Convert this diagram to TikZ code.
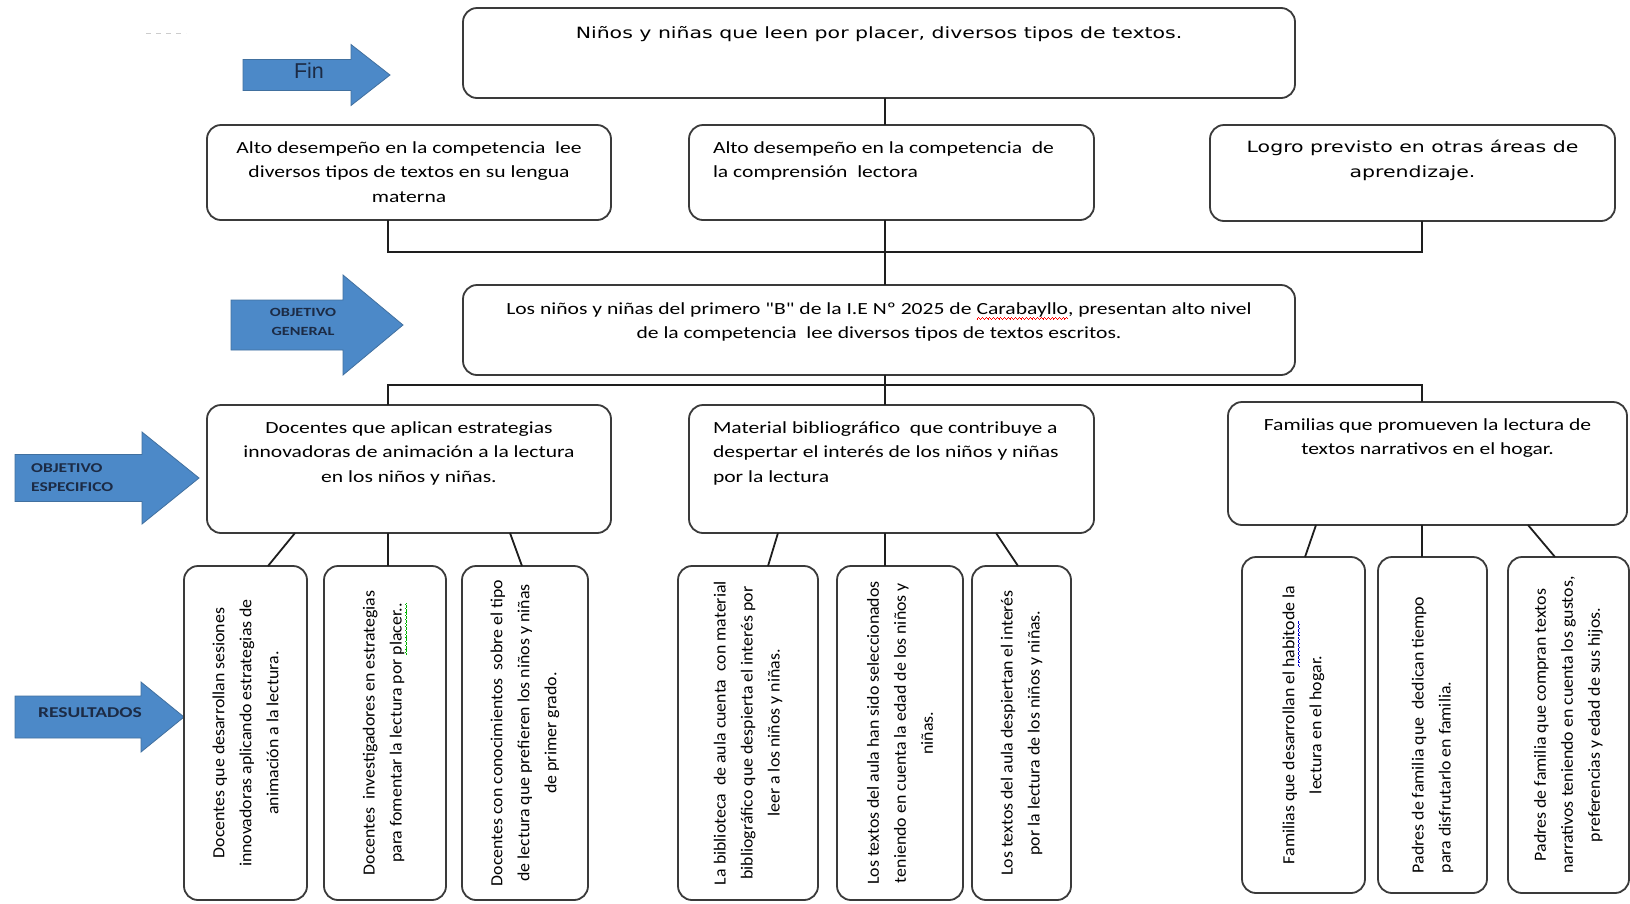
\documentclass[tikz,border=0pt]{standalone}
\usepackage{fontspec}
\setmainfont{Carlito}
\newfontfamily\hf[FakeStretch=1.27]{Carlito}
\newfontfamily\wf[FakeStretch=1.32]{DejaVu Sans}
\newfontfamily\vf[FakeStretch=1.05]{Carlito}
\newfontfamily\af[FakeStretch=1.3]{Carlito}
\newfontfamily\finf{Liberation Sans}
\usetikzlibrary{calc}
\definecolor{bc}{HTML}{3A3A3A}
\definecolor{lc}{HTML}{1E1E1E}
\definecolor{afill}{HTML}{4C89C8}
\definecolor{adraw}{HTML}{41709F}
\definecolor{atx}{HTML}{1C2B45}
% spell-check squiggle drawn with rules (no glyphs)
\newcommand\wv{\rule[-5.4pt]{0.9pt}{0.8pt}\rule[-4.7pt]{0.9pt}{0.8pt}\rule[-4.0pt]{0.9pt}{0.8pt}\rule[-4.7pt]{0.9pt}{0.8pt}}
\newcommand\wavy[2]{\setbox0\hbox{#2}\leavevmode\rlap{\color{#1}\hbox to \wd0{\xleaders\hbox{\wv}\hfill}}\box0}
% horizontal box content: width, height, first-baseline offset, text
\newcommand\hb[4]{\parbox[c][#2][t]{#1}{\hf\fontsize{17}{24.5}\selectfont\centering\rule{0pt}{#3}#4}}
\newcommand\hbw[4]{\parbox[c][#2][t]{#1}{\wf\fontsize{15.5}{25.5}\selectfont\centering\rule{0pt}{#3}#4}}
\newcommand\hbl[4]{\parbox[c][#2][t]{#1}{\hf\fontsize{17}{24.5}\selectfont\raggedright\leftskip=24pt\rule{0pt}{#3}#4}}
% rotated box content: length (visual height), thickness (visual width), text
\newcommand\vb[3]{\parbox[c][#2][c]{#1}{\vf\fontsize{17}{27}\selectfont\centering #3}}
\newcommand\vbl[3]{\parbox[c][#2][c]{#1}{\vf\fontsize{17}{27}\selectfont\raggedright\leftskip=20pt #3}}
\newcommand\barrow[6]{\path[arr] (#1,#4-#5) -- (#2,#4-#5) -- (#2,#4-#6) -- (#3,#4) -- (#2,#4+#6) -- (#2,#4+#5) -- (#1,#4+#5) -- cycle;}
\begin{document}
\begin{tikzpicture}[x=1pt,y=-1pt,
  box/.style={draw=bc, line width=1.8pt, rounded corners=14pt, fill=white, inner sep=0pt, outer sep=0pt},
  vbox/.style={box, rotate=90},
  conn/.style={draw=lc, line width=1.8pt},
  arr/.style={fill=afill, draw=adraw, line width=0.8pt},
  atext/.style={text=atx, inner sep=0pt}]
\useasboundingbox (0,0) rectangle (1630,903);
\fill[white] (0,0) rectangle (1630,903);
% stray mark
\draw[gray!40, line width=1pt, dash pattern=on 5pt off 5pt] (146,33) -- (186,33);
% side arrows
\barrow{243}{351}{390}{75}{15.5}{30.5}
\barrow{231}{343}{403}{325}{25}{50}
\barrow{15}{142}{199}{478}{23.5}{46}
\barrow{15}{141}{184}{717}{21}{35}
\node[atext, font=\finf\fontsize{21.5}{25}\selectfont] (fin) at (309,71) {Fin};
\node[atext, font=\af\bfseries\fontsize{12.5}{19}\selectfont, align=center] (og) at (303,322) {OBJETIVO\\GENERAL};
\node[atext, font=\af\bfseries\fontsize{13.5}{19}\selectfont, align=left, anchor=west] (oe) at (31,478) {OBJETIVO\\ESPECIFICO};
\node[atext, font=\af\bfseries\fontsize{15}{17}\selectfont] (res) at (90,713) {RESULTADOS};
% boxes
\node[box] (T) at (879,53) {\hbw{832pt}{90pt}{30pt}{Niños y niñas que leen por placer, diversos tipos de textos.}};
\node[box] (A) at (409,172.5) {\hb{404pt}{95pt}{28pt}{Alto desempeño en la competencia\ \ lee\\ diversos tipos de textos en su lengua\\ materna}};
\node[box] (B) at (891.5,172.5) {\hbl{405pt}{95pt}{28pt}{Alto desempeño en la competencia\ \ de\\ la comprensión\ \ lectora}};
\node[box] (C) at (1412.5,173) {\hbw{405pt}{96pt}{27pt}{Logro previsto en otras áreas de\\ aprendizaje.}};
\node[box] (G) at (879,330) {\hb{832pt}{90pt}{29pt}{Los niños y niñas del primero "B" de la I.E Nº 2025 de \wavy{red}{Carabayllo}, presentan alto nivel\\ de la competencia\ \ lee diversos tipos de textos escritos.}};
\node[box] (A3) at (409,469) {\hb{404pt}{128pt}{28pt}{Docentes que aplican estrategias\\ innovadoras de animación a la lectura\\ en los niños y niñas.}};
\node[box] (B3) at (891.5,469) {\hbl{405pt}{128pt}{28pt}{Material bibliográfico\ \ que contribuye a\\ despertar el interés de los niños y niñas\\ por la lectura}};
\node[box] (C3) at (1427.5,463.5) {\hb{399pt}{123pt}{28pt}{Familias que promueven la lectura de\\ textos narrativos en el hogar.}};
% result boxes (rotated)
\node[vbox] (R1) at (245.5,733) {\vb{334pt}{123pt}{Docentes que desarrollan sesiones\\ innovadoras aplicando estrategias de\\ animación a la lectura.}};
\node[vbox] (R2) at (385,733) {\vb{334pt}{122pt}{Docentes\ \ investigadores en estrategias\\ para fomentar la lectura por \wavy{green!70!black}{placer..}}};
\node[vbox] (R3) at (525,733) {\vb{334pt}{126pt}{Docentes con conocimientos\ \ sobre el tipo\\ de lectura que prefieren los niños y niñas\\ de primer grado.}};
\node[vbox] (R4) at (748,733) {\vb{334pt}{140pt}{La biblioteca\ \ de aula cuenta\ \ con material\\ bibliográfico que despierta el interés por\\ leer a los niños y niñas.}};
\node[vbox] (R5) at (900,733) {\vb{334pt}{126pt}{Los textos del aula han sido seleccionados\\ teniendo en cuenta la edad de los niños y\\ niñas.}};
\node[vbox] (R6) at (1021.5,733) {\vb{334pt}{99pt}{Los textos del aula despiertan el interés\\ por la lectura de los niños y niñas.}};
\node[vbox] (R7) at (1303.5,725) {\vb{336pt}{123pt}{Familias que desarrollan el \wavy{blue!80!black}{habito} de la\\ lectura en el hogar.}};
\node[vbox] (R8) at (1432.5,725) {\vbl{336pt}{109pt}{Padres de familia que\ \ dedican tiempo\\ para disfrutarlo en familia.}};
\node[vbox] (R9) at (1568.5,725) {\vb{336pt}{121pt}{Padres de familia que compran textos\\ narrativos teniendo en cuenta los gustos,\\ preferencias y edad de sus hijos.}};
% connectors
\coordinate (j1) at (885,252);
\coordinate (j2) at (885,385);
\draw[conn] (T.south -| j1) -- (B.north -| j1);
\draw[conn] (B.south -| j1) -- (G.north -| j1);
\draw[conn] ($(A.south)+(-21,0)$) |- (j1) -| ($(C.south)+(9.5,0)$);
\draw[conn] (G.south -| j2) -- (B3.north -| j2);
\draw[conn] ($(A3.north)+(-21,0)$) |- (j2) -| ($(C3.north)+(-5.5,0)$);
\draw[conn] ($(A3.south)+(-114,0)$) -- ($(R1.east)+(22.5,0)$);
\draw[conn] ($(A3.south)+(-21,0)$) -- ($(R2.east)+(3,0)$);
\draw[conn] ($(A3.south)+(101,0)$) -- ($(R3.east)+(-3,0)$);
\draw[conn] ($(B3.south)+(-113.5,0)$) -- ($(R4.east)+(20,0)$);
\draw[conn] ($(B3.south)+(-6.5,0)$) -- ($(R5.east)+(-15,0)$);
\draw[conn] ($(B3.south)+(104.5,0)$) -- ($(R6.east)+(-3.5,0)$);
\draw[conn] ($(C3.south)+(-111.5,0)$) -- ($(R7.east)+(1.5,0)$);
\draw[conn] ($(C3.south)+(-5.5,0)$) -- ($(R8.east)+(-10.5,0)$);
\draw[conn] ($(C3.south)+(100.5,0)$) -- ($(R9.east)+(-13.5,0)$);
\end{tikzpicture}
\end{document}
